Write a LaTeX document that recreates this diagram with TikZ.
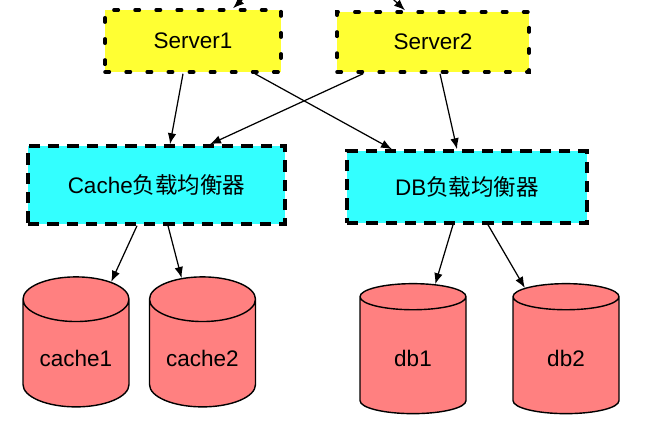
\documentclass[tikz,border=0pt]{standalone}
\usepackage{fontspec}
\setmainfont{Liberation Sans}
\newfontfamily\cjk{Noto Sans CJK SC}
\usetikzlibrary{shapes.geometric,arrows.meta}
\definecolor{srvyellow}{HTML}{FFFF33}
\definecolor{lbcyan}{HTML}{33FFFF}
\definecolor{dbred}{HTML}{FF8080}

\begin{document}
\begin{tikzpicture}[
    font=\fontsize{12.8}{15}\selectfont,
    server/.style={draw=black, fill=srvyellow, line width=2pt, line cap=round, dash pattern=on 2.5pt off 9.5pt},
    balancer/.style={draw=black, fill=lbcyan, line width=2pt, dash pattern=on 6.5pt off 4.5pt},
    store/.style={draw=black, fill=dbred, thick, cylinder, shape border rotate=90, aspect=0.53, minimum width=2.12cm, minimum height=2.6cm},
    link/.style={-{Latex[length=0.22cm,width=0.17cm]}, line width=0.7pt, black}]
      \useasboundingbox (0,0) rectangle (13.34,8.88);
      \clip (0,0) rectangle (13.34,8.88);

      \node [server, minimum width=3.52cm, minimum height=1.24cm] (s1) at (3.86,8.06) {Server1};
      \node [server, minimum width=3.84cm, minimum height=1.2cm] (s2) at (8.66,8.04) {Server2};

      \node [balancer, minimum width=5.14cm, minimum height=1.56cm] (cachelb) at (3.13,5.18) {Cache{\cjk 负载均衡器}};
      \node [balancer, minimum width=4.8cm, minimum height=1.44cm] (dblb) at (9.34,5.14) {DB{\cjk 负载均衡器}};

      \node [store] (cache1) at (1.52,1.71) {cache1};
      \node [store] (cache2) at (4.05,1.71) {cache2};
      \node [store] (db1) at (8.26,1.71) {db1};
      \node [store] (db2) at (11.32,1.71) {db2};

      \coordinate (in1) at (5.16,9.18);
      \coordinate (in2) at (7.6,9.14);
      \draw [link] (in1) -- ([xshift=0.8cm]s1.north);
      \draw [link] (in2) -- ([xshift=-0.56cm]s2.north);

      \draw [link] ([xshift=-0.2cm]s1.south) -- ([xshift=0.27cm]cachelb.north);
      \draw [link] ([xshift=1.24cm]s1.south) -- ([xshift=-1.5cm]dblb.north);
      \draw [link] ([xshift=-1.4cm]s2.south) -- ([xshift=1.07cm]cachelb.north);
      \draw [link] ([xshift=0.14cm]s2.south) -- ([xshift=-0.2cm]dblb.north);

      \draw [link] ([xshift=-0.39cm]cachelb.south) -- (cache1);
      \draw [link] ([xshift=0.23cm]cachelb.south) -- (cache2);
      \draw [link] ([xshift=-0.28cm]dblb.south) -- (db1);
      \draw [link] ([xshift=0.42cm]dblb.south) -- (db2);
    \end{tikzpicture}
\end{document}
